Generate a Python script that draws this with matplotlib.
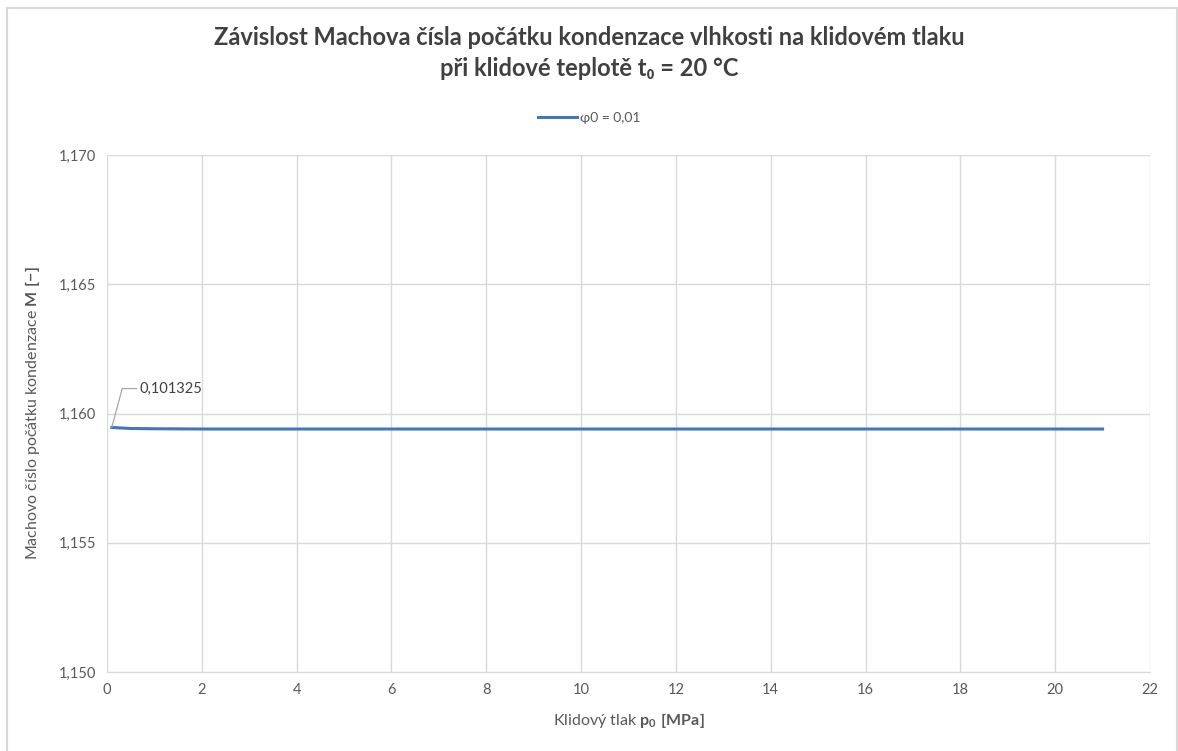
import numpy as np
import matplotlib.pyplot as plt
from matplotlib.ticker import FuncFormatter, MultipleLocator

plt.rcParams['font.family'] = ['Lato', 'DejaVu Sans']
plt.rcParams['mathtext.fontset'] = 'custom'
plt.rcParams['mathtext.rm'] = 'Lato'
plt.rcParams['mathtext.bf'] = 'Lato:bold'

# Data
p0 = [0.101325, 0.5, 1, 2, 3, 4, 5, 6, 7, 8, 9, 10, 11, 12, 13, 14, 15, 16,
      17, 18, 19, 20, 21]
mach = [1.15946, 1.15942, 1.15941, 1.15940, 1.15940, 1.15940, 1.15940,
        1.15940, 1.15940, 1.15940, 1.15940, 1.15940, 1.15940, 1.15940,
        1.15940, 1.15940, 1.15940, 1.15940, 1.15940, 1.15940, 1.15940,
        1.15940, 1.15940]
series_label = 'φ0 = 0,01'
title = ('Závislost Machova čísla počátku kondenzace vlhkosti na klidovém tlaku\n'
         'při klidové teplotě t₀ = 20 °C')

fig = plt.figure(figsize=(11.78, 7.51), dpi=100)
ax = fig.add_axes([0.0908, 0.1052, 0.8854, 0.6884])

ax.plot(p0, mach, color='#4472C4', lw=2.2, label=series_label)

ax.set_xlim(0, 22)
ax.set_ylim(1.150, 1.170)
ax.xaxis.set_major_locator(MultipleLocator(2))
ax.yaxis.set_major_locator(MultipleLocator(0.005))
ax.yaxis.set_major_formatter(FuncFormatter(lambda v, _: f'{v:.3f}'.replace('.', ',')))
ax.grid(True, color='#D9D9D9', lw=1)
ax.set_axisbelow(True)
for side in ['top', 'right', 'left']:
    ax.spines[side].set_visible(False)
ax.spines['bottom'].set_color('#D9D9D9')
ax.tick_params(length=0, colors='#595959', labelsize=10.5, pad=8)

ax.set_xlabel(r'Klidový tlak $\mathbf{p_0\ [MPa]}$', color='#595959',
              fontsize=11.5, labelpad=10)
ax.set_ylabel(r'Machovo číslo počátku kondenzace $\mathbf{M\ [-]}$', color='#595959',
              fontsize=11.5, labelpad=12)

# data label for the first point
ax.annotate(f'{p0[0]:.6f}'.replace('.', ','), xy=(p0[0], mach[0]),
            xytext=(20, 28), textcoords='offset points', fontsize=10.5,
            color='#404040', va='center',
            arrowprops=dict(arrowstyle='-', color='#A6A6A6', lw=0.9,
                            connectionstyle='angle,angleA=0,angleB=75,rad=0',
                            shrinkA=0, shrinkB=0))

fig.suptitle(title, y=0.965, fontsize=17, fontweight='bold', color='#404040',
             linespacing=1.4)
fig.legend(loc='center', bbox_to_anchor=(0.5, 0.843), frameon=False,
           fontsize=10, labelcolor='#595959', handlelength=2.8, handletextpad=0.2)

# outer chart border
fig.add_artist(plt.Rectangle((0.006, -0.01), 0.993, 1.0, transform=fig.transFigure,
                             fill=False, edgecolor='#D9D9D9', lw=1.5))

plt.savefig('out.png', dpi=100)
